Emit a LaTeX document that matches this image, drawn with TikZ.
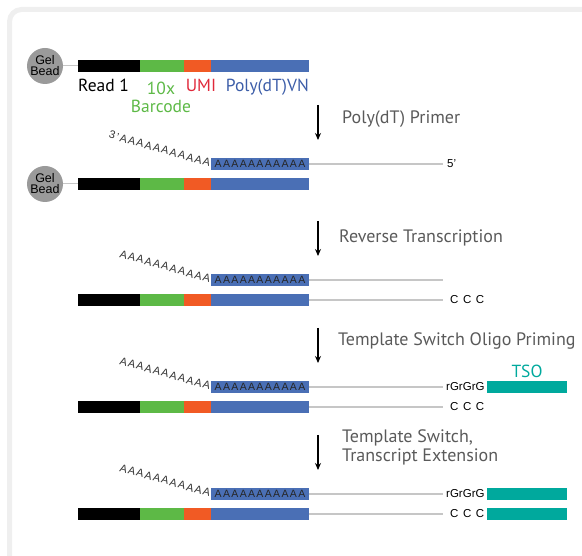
\documentclass[tikz,border=0pt]{standalone}
\usepackage{fontspec}
\setmainfont{Liberation Sans}
\newfontfamily\dinfont{PT Sans}
\usetikzlibrary{positioning,arrows.meta}

\definecolor{bcgreen}{HTML}{5DB946}
\definecolor{umiorange}{HTML}{F15A24}
\definecolor{umired}{HTML}{E0283A}
\definecolor{polyblue}{HTML}{4A6FB5}
\definecolor{polytext}{HTML}{3C5DA8}
\definecolor{tsoteal}{HTML}{00A99D}
\definecolor{beadgray}{HTML}{9A9A9A}
\definecolor{strandgray}{HTML}{C6C6C6}
\definecolor{labelgray}{HTML}{5A5A5A}
\definecolor{panelgray}{HTML}{EFEFEF}

\begin{document}
\begin{tikzpicture}[x=1pt,y=-1pt,>={Stealth[length=7pt,width=6pt]},
    seg/.style={rectangle,inner sep=0pt,outer sep=0pt,minimum height=12pt,anchor=west},
    bead/.style={circle,fill=beadgray,minimum size=36pt,inner sep=0pt,align=center,font=\fontsize{12.5}{11}\selectfont},
    strand/.style={strandgray,line width=1.3pt},
    tail/.style={rotate=-16,anchor=base east,inner sep=0pt,text=black!80,font=\fontsize{11}{11}\selectfont\addfontfeatures{LetterSpace=12}},
    polytail/.style={seg,fill=polyblue,minimum width=98pt,text=black!85,font=\fontsize{10.5}{10.5}\selectfont\addfontfeatures{LetterSpace=13}},
    lab/.style={inner sep=0pt,anchor=base,font=\dinfont\fontsize{17.5}{19}\selectfont},
    steplabel/.style={inner sep=0pt,anchor=base west,text=labelgray,font=\dinfont\fontsize{18}{19}\selectfont},
    small/.style={inner sep=0pt,anchor=west,font=\fontsize{11.5}{11.5}\selectfont}]
    \useasboundingbox (0,0) rectangle (582,556);

    % panel
    \draw[panelgray, line width=5pt, rounded corners=12pt] (9.5,9.5) rectangle (610,580);

    % bars
    \foreach \r/\y in {1/66,2/184,3/300,4/407,5/514}{
        \node[seg, fill=black, minimum width=62pt] (rd\r) at (78,\y) {};
        \node[seg, fill=bcgreen, minimum width=44pt] (bc\r) at (rd\r.east) {};
        \node[seg, fill=umiorange, minimum width=27pt] (umi\r) at (bc\r.east) {};
        \node[seg, fill=polyblue, minimum width=98pt] (dt\r) at (umi\r.east) {};
    }

    % gel beads
    \node[bead] (bead1) at (45,66) {Gel\\Bead};
    \node[bead] (bead2) at (45,184) {Gel\\Bead};
    \draw[strandgray, line width=1pt] (bead1.east) -- (rd1.west);
    \draw[strandgray, line width=1pt] (bead2.east) -- (rd2.west);

    % bar labels
    \node[lab, anchor=base west] (readlab) at (78,92) {Read 1};
    \node[lab, text=bcgreen] (bclab) at (161,95) {10x};
    \node[lab, text=bcgreen] (bclab2) at (161,113) {Barcode};
    \node[lab, text=umired] (umilab) at (201,92) {UMI};
    \node[lab, text=polytext, anchor=base east] (dtlab) at (309,92) {Poly(dT)VN};

    % steps
    \coordinate (ar1a) at (318,105); \coordinate (ar1b) at (318,140);
    \coordinate (ar2a) at (318,221); \coordinate (ar2b) at (318,256);
    \coordinate (ar3a) at (318,328); \coordinate (ar3b) at (318,363);
    \coordinate (ar4a) at (318,435); \coordinate (ar4b) at (318,470);
    \draw[->, line width=1.2pt] (ar1a) -- (ar1b);
    \draw[->, line width=1.2pt] (ar2a) -- (ar2b);
    \draw[->, line width=1.2pt] (ar3a) -- (ar3b);
    \draw[->, line width=1.2pt] (ar4a) -- (ar4b);
    \node[steplabel] (st1) at (342,124) {Poly(dT) Primer};
    \node[steplabel] (st2) at (339,243) {Reverse Transcription};
    \node[steplabel] (st3) at (338,346) {Template Switch Oligo Priming};
    \node[steplabel] (st4) at (342,443) {Template Switch,};
    \node[steplabel] (st4b) at (342,462) {Transcript Extension};

    % poly(A) tails
    \foreach \r/\y in {2/164,3/280,4/387,5/494}{
        \node[polytail] (pa\r) at (211,\y) {AAAAAAAAAAA};
    }
    \node[tail] (tail2) at ([xshift=-1.5pt,yshift=3pt]pa2.south west) {3'AAAAAAAAAAA};
    \node[tail] (tail3) at ([xshift=-1.5pt,yshift=3pt]pa3.south west) {AAAAAAAAAAA};
    \node[tail] (tail4) at ([xshift=-1.5pt,yshift=3pt]pa4.south west) {AAAAAAAAAAA};
    \node[tail] (tail5) at ([xshift=-1.5pt,yshift=3pt]pa5.south west) {AAAAAAAAAAA};

    % strands
    \node[small] (five) at (447,164) {5'};
    \draw[strand] (pa2.east) -- ([xshift=-4pt]five.west);
    \coordinate (end3) at (443,280);
    \draw[strand] (pa3.east) -- (end3);
    \node[small] (ccc3) at (450,300) {C\hspace{4.5pt}C\hspace{4.5pt}C};
    \draw[strand] (dt3.east) -- ([xshift=-7pt]ccc3.west);

    \node[small] (rg4) at (446,387) {rGrGrG};
    \draw[strand] (pa4.east) -- ([xshift=-3pt]rg4.west);
    \node[small] (ccc4) at (450,407) {C\hspace{4.5pt}C\hspace{4.5pt}C};
    \draw[strand] (dt4.east) -- ([xshift=-7pt]ccc4.west);
    \node[seg, fill=tsoteal, minimum width=80pt] (tso4) at (487,387) {};
    \node[lab, anchor=south, text=tsoteal, above=3pt of tso4] (tsolab) {TSO};

    \node[small] (rg5) at (446,494) {rGrGrG};
    \draw[strand] (pa5.east) -- ([xshift=-3pt]rg5.west);
    \node[small] (ccc5) at (450,514) {C\hspace{4.5pt}C\hspace{4.5pt}C};
    \draw[strand] (dt5.east) -- ([xshift=-7pt]ccc5.west);
    \node[seg, fill=tsoteal, minimum width=80pt] (tso5) at (487,494) {};
    \node[seg, fill=tsoteal, minimum width=80pt] (tso5b) at (487,514) {};
\end{tikzpicture}
\end{document}
